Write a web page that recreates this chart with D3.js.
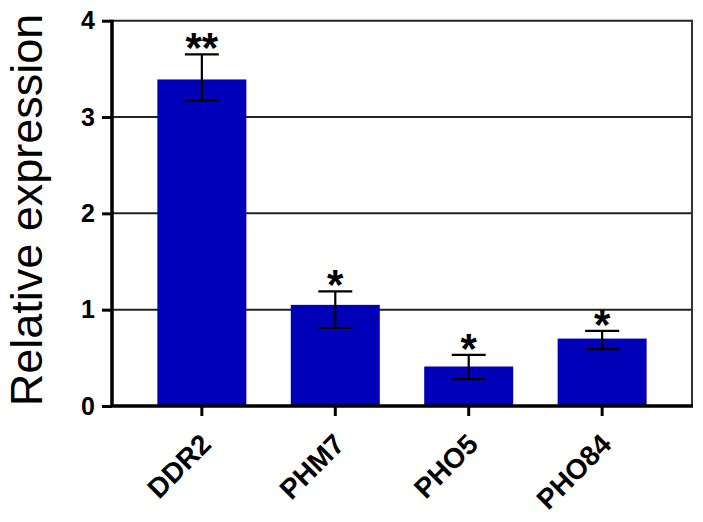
<!DOCTYPE html>
<html><head><meta charset="utf-8">
<script src="https://cdn.jsdelivr.net/npm/d3@7"></script>
<style>body{margin:0;background:#fff}svg{display:block}</style>
</head><body>
<script>
const genes = ["DDR2", "PHM7", "PHO5", "PHO84"];
const means = [3.39, 1.05, 0.41, 0.70];
const errUpper = [3.65, 1.19, 0.53, 0.78];
const errLower = [3.17, 0.81, 0.28, 0.59];
const stars = ["**", "*", "*", "*"];
const yTicks = [0, 1, 2, 3, 4];
const yTitle = "Relative expression";

const W = 703, H = 522;
const svg = d3.select("body").append("svg").attr("width", W).attr("height", H);
const x0 = 112, x1 = 692, yTop = 20.7, yBot = 406;
const x = d3.scaleBand().domain(genes).range([x0, x1]).paddingInner(0.333).paddingOuter(0.34);
const y = d3.scaleLinear().domain([0, 4]).range([yBot, yTop]);
const font = "'Liberation Sans', Arial, sans-serif";

// grid lines
svg.append("g").selectAll("line").data(yTicks.filter(d => d > 0)).join("line")
  .attr("x1", x0).attr("x2", x1).attr("y1", d => y(d)).attr("y2", d => y(d))
  .attr("stroke", "#222").attr("stroke-width", 2);
// right border
svg.append("line").attr("x1", x1).attr("x2", x1).attr("y1", y(4) - 1).attr("y2", yBot)
  .attr("stroke", "#333").attr("stroke-width", 2);

// bars
svg.append("g").selectAll("rect").data(genes).join("rect")
  .attr("x", d => x(d)).attr("width", x.bandwidth())
  .attr("y", (d, i) => y(means[i])).attr("height", (d, i) => yBot - y(means[i]))
  .attr("fill", "#0000b8");

// error bars
const eb = svg.append("g").attr("stroke", "#000").attr("stroke-width", 2.2);
genes.forEach((g, i) => {
  const cx = x(g) + x.bandwidth() / 2;
  eb.append("line").attr("x1", cx).attr("x2", cx).attr("y1", y(errUpper[i])).attr("y2", y(errLower[i]));
  eb.append("line").attr("x1", cx - 17).attr("x2", cx + 17).attr("y1", y(errUpper[i])).attr("y2", y(errUpper[i]));
  eb.append("line").attr("x1", cx - 17).attr("x2", cx + 17).attr("y1", y(errLower[i])).attr("y2", y(errLower[i]));
});

// significance stars
svg.append("g").selectAll("text").data(genes).join("text")
  .attr("x", d => x(d) + x.bandwidth() / 2)
  .attr("y", (d, i) => y(errUpper[i]) + 8)
  .attr("text-anchor", "middle").attr("font-family", font).attr("font-size", 42)
  .attr("font-weight", "bold").attr("fill", "#000").text((d, i) => stars[i]);

// y axis
const yAxis = svg.append("g").attr("transform", `translate(${x0},0)`)
  .call(d3.axisLeft(y).tickValues(yTicks).tickSize(10).tickPadding(7).tickFormat(d3.format("d")));
yAxis.select(".domain").attr("stroke", "#000").attr("stroke-width", 3.5).attr("d", `M0,${yTop - 1}V${yBot}`);
yAxis.selectAll(".tick line").attr("stroke", "#000").attr("stroke-width", 3);
yAxis.selectAll(".tick text").attr("font-family", font).attr("font-size", 25).attr("font-weight", "bold").attr("fill", "#000");

// x axis
const xAxis = svg.append("g").attr("transform", `translate(0,${yBot})`)
  .call(d3.axisBottom(x).tickSize(10).tickSizeOuter(0));
xAxis.select(".domain").attr("stroke", "#000").attr("stroke-width", 3.5).attr("d", `M${x0 - 1.5},0H${x1 + 1}`);
xAxis.selectAll(".tick line").attr("stroke", "#000").attr("stroke-width", 3);
xAxis.selectAll(".tick text")
  .attr("font-family", font).attr("font-size", 28).attr("font-weight", "bold").attr("fill", "#000")
  .attr("text-anchor", "end").attr("dy", null).attr("y", 0)
  .attr("transform", "translate(11,40) rotate(-45)");

// y title
svg.append("text").attr("transform", `translate(42,${(13 + 407) / 2}) rotate(-90)`)
  .attr("text-anchor", "middle").attr("font-family", font).attr("font-size", 45)
  .attr("fill", "#000").text(yTitle);
</script>
</body></html>
